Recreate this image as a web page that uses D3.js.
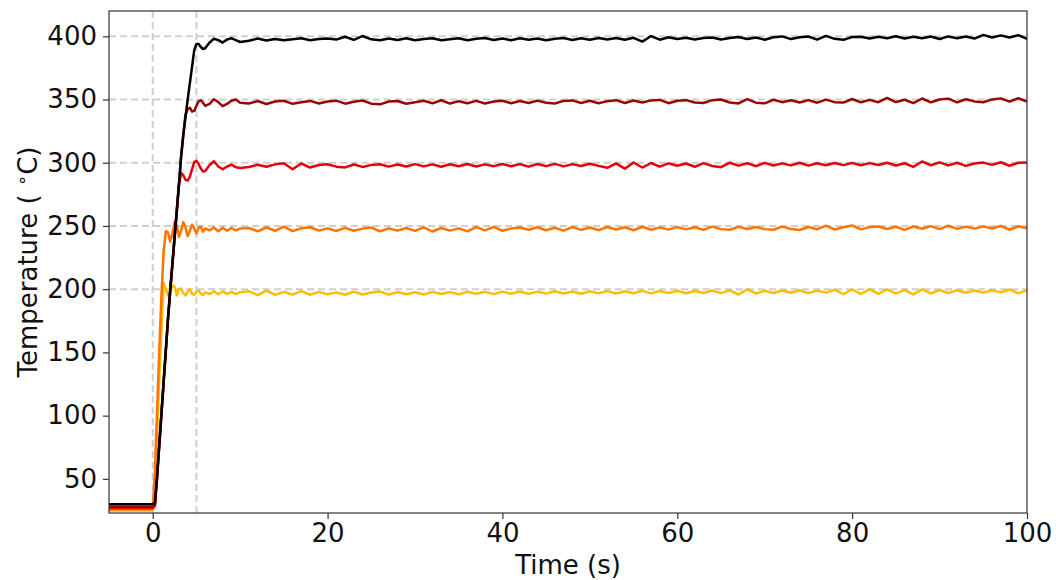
<!DOCTYPE html>
<html>
<head>
<meta charset="utf-8">
<script src="https://cdn.jsdelivr.net/npm/d3@7"></script>
<style>
  html, body { margin: 0; padding: 0; background: #fff; }
  svg { display: block; font-family: "DejaVu Sans", sans-serif; }
</style>
</head>
<body>
<svg id="chart" width="1056" height="580"></svg>
<script>
// ---- data ----
const timeTransient = [-5, 0, 0.25, 0.5, 0.75, 1, 1.25, 1.5, 1.75, 2, 2.25, 2.5, 2.75, 3, 3.25, 3.5, 3.75, 4,
  4.25, 4.5, 4.75, 5, 5.25, 5.5, 5.75, 6, 6.5, 7, 7.5, 8, 8.5, 9, 9.5, 10];
const timeSteady = [11,12,13,14,15,16,17,18,19,20,21,22,23,24,25,26,27,28,29,30,31,32,33,34,35,36,37,38,39,40,
  41,42,43,44,45,46,47,48,49,50,51,52,53,54,55,56,57,58,59,60,61,62,63,64,65,66,67,68,69,70,
  71,72,73,74,75,76,77,78,79,80,81,82,83,84,85,86,87,88,89,90,91,92,93,94,95,96,97,98,99,100];

const setpoints = [200, 250, 300, 350, 400];
const seriesColors = ["#f8bf00", "#ff7400", "#e6000a", "#9a0606", "#000000"];

const temp200 = [25, 25, 40, 85, 130, 168, 205, 200, 195, 198, 203, 202, 195, 200, 200.5, 197, 195, 198,
  200, 196.5, 195.5, 198, 199, 196.5, 195.5, 197.5, 196.2, 198.4, 196, 198.2, 196.3, 197.9, 196.1, 197.6,
  198.4, 195.3, 198.8, 195.5, 198, 195.7, 198.5, 195.6, 197.9, 195.9,
  197.5, 195.6, 198.1, 195.8, 197.4, 198.2, 195.7, 197.8, 196, 197.6,
  195.8, 197.9, 196.2, 197.7, 195.9, 198, 196.3, 197.9, 196.1, 198.1,
  196.4, 198.2, 196.3, 198.1, 196.5, 198.4, 196.6, 198.2, 196.4, 198.4,
  196.7, 198.5, 196.6, 198.4, 196.8, 198.7, 196.7, 198.5, 196.9, 198.8,
  196.8, 198.6, 197, 198.9, 196.9, 199.1, 195.8, 199.8, 196.6, 198.7,
  197, 199, 197.2, 199.2, 196.9, 198.9, 197.3, 199.6, 196, 199.8,
  196.2, 200.1, 196.3, 199.9, 196.5, 199.5, 195.9, 199.8, 196.6, 199.4,
  197, 199.1, 197.2, 199, 197.3, 199.2, 197.5, 199.8, 196.7, 199.2];

const temp250 = [26, 26, 56, 104, 152, 195, 230, 246, 245, 237.5, 244, 253, 251, 241.5, 246, 253, 249, 242,
  246, 251, 248, 244, 248.5, 249.5, 245.5, 248, 246.5, 248.8, 245.8, 248.6, 246.2, 248.4, 246.5, 248,
  248.4, 245.8, 248.8, 246.2, 249.5, 245.9, 248.2, 249, 246.3, 248.1,
  246, 248.5, 246.2, 247.9, 248.8, 245.8, 248.1, 246.3, 248.4, 246.1,
  248.9, 245.6, 248.4, 246.3, 248.1, 245.8, 249.1, 246.5, 249.2, 246.2,
  248, 248.8, 247, 249, 246.6, 248.6, 246.3, 249.1, 246.9, 248.8,
  246.7, 249.2, 247.2, 249, 246.6, 249.4, 247, 248.9, 247.1, 249.1,
  247.3, 249, 246.9, 249.5, 247.5, 247, 249.3, 247.6, 249.2, 247.5,
  247, 249.5, 247.6, 246.8, 249.2, 247.4, 250.2, 247.2, 249, 250.4,
  247.3, 249.1, 249.6, 247.6, 249.4, 246.9, 249.6, 247.8, 249.9, 247.5,
  250.2, 247.7, 249.5, 247.9, 249.7, 248, 250.1, 247, 249.8, 248.2];

const temp300 = [27, 27, 28.5, 51, 76, 101, 126, 151, 176, 198, 219, 240, 261, 282, 292, 290, 286.5, 285.8,
  289, 295, 300.5, 301.5, 299, 295.5, 293, 293.5, 298, 301.2, 297, 294.8, 297, 298.5, 296.5, 295.8,
  296.6, 298.4, 296.8, 298.7, 299.6, 294.9, 299.4, 296.2, 298.2, 298.8,
  296.9, 296.3, 298.6, 296.7, 298.3, 298.8, 296.9, 298.6, 297, 298.9,
  297.1, 298.7, 296.8, 298.8, 297.2, 299, 297, 298.7, 297.3, 299,
  297.2, 298.9, 296.9, 299, 297.3, 299.1, 297.1, 298.9, 297.4, 299.2,
  297.5, 296, 299.5, 295.3, 300.2, 296.2, 299.8, 296.9, 299.5, 297.6,
  299.4, 296.8, 299.7, 297.4, 296.5, 300, 297.7, 299.6, 297.3, 299.9,
  297.8, 299.5, 297.9, 300, 297.7, 299.6, 298, 299.8, 298.1, 299.9,
  298, 299.7, 298.2, 300, 297.8, 299.6, 296.7, 301, 298, 300.3,
  297.9, 300, 297.5, 299.4, 300.1, 298.3, 300.4, 297.6, 300, 300.2];

const temp350 = [28, 28, 29, 52, 77, 102, 127, 152, 177, 199, 220, 241, 262, 283, 305, 322, 338, 342.5,
  343.5, 340.5, 341, 345, 348.5, 349.4, 347.5, 345, 346.5, 350.2, 348, 344.7, 346.5, 349, 350, 347.5,
  346.8, 348.8, 346.5, 348.4, 349, 346.6, 347.9, 348.9, 346.9, 348.4,
  349.1, 346.7, 348.2, 349.2, 346.7, 346.2, 348.4, 348.8, 346.6, 347.9,
  349, 347, 349.4, 346.8, 348.7, 347.1, 348.9, 346.9, 348.5, 349,
  347.1, 348.8, 347.2, 349.1, 347.5, 346.9, 348.9, 349.3, 347.3, 349,
  347, 348.7, 349.5, 347.2, 349.2, 347.6, 349.3, 349.7, 347.1, 349,
  349.5, 347.7, 347.2, 349.5, 350, 347.6, 346.9, 350.3, 347.5, 347,
  349.8, 347.9, 349.4, 347.7, 349.5, 347.5, 349.9, 347.9, 347.6, 350.4,
  347.8, 349.7, 347.9, 351.2, 348, 349.8, 347.2, 350.8, 347.8, 350,
  350.7, 347.7, 350.2, 348.5, 347.8, 350.1, 350.9, 348.3, 351, 348.4];

const temp400 = [30, 30, 31, 52, 77, 102, 127, 152, 177, 199, 220, 241, 262, 283, 305, 322, 336, 350,
  363, 376, 389, 394, 394, 391.5, 390, 390.5, 395, 398, 397, 395, 397.5, 398.5, 397, 395.5,
  396.5, 398.2, 396.6, 397.8, 396.9, 397.6, 398.4, 396.8, 397.9, 398.3,
  397.4, 399.6, 397.2, 400.2, 397.6, 396.9, 398.3, 397, 398.4, 396.8,
  397.9, 398.5, 396.9, 397.6, 398.4, 396.8, 398, 398.6, 397, 398.2,
  396.9, 398.4, 397.2, 398.3, 396.8, 398, 398.6, 397.1, 398.4, 397.3,
  398.7, 397.5, 398.6, 397.3, 398.8, 395.8, 400.2, 397.3, 399.3, 397.9,
  398.9, 397.5, 398.7, 399.1, 397.4, 398.6, 399.5, 397.8, 399, 397.3,
  399.2, 399.9, 397.8, 399.3, 399.8, 397.4, 400.3, 398, 397.2, 399.4,
  399.6, 398.2, 399.7, 398.5, 400, 398.2, 399.7, 398.4, 399.8, 397.9,
  399.9, 398.5, 399.8, 398.2, 401.1, 399, 400.7, 399.1, 400.9, 398];

const xTicks = [0, 20, 40, 60, 80, 100];
const yTicks = [50, 100, 150, 200, 250, 300, 350, 400];
const refTimes = [0, 5];
const xLabel = "Time (s)";

// ---- layout ----
const svg = d3.select("#chart");
const L = 109, R = 1027, T = 11, B = 513;
const x = d3.scaleLinear().domain([-5, 100]).range([L, R]);
const y = d3.scaleLinear().domain([23, 420]).range([B, T]);

const time = timeTransient.concat(timeSteady);
const allSeries = [temp200, temp250, temp300, temp350, temp400];

svg.append("defs").append("clipPath").attr("id", "clip")
  .append("rect").attr("x", L).attr("y", T).attr("width", R - L).attr("height", B - T);

// reference lines
const grid = svg.append("g");
grid.selectAll("line.h").data(setpoints).enter().append("line")
  .attr("x1", L).attr("x2", R)
  .attr("y1", d => y(d)).attr("y2", d => y(d))
  .attr("stroke", "#cfcfcf").attr("stroke-width", 2).attr("stroke-dasharray", "7,4");
grid.selectAll("line.v").data(refTimes).enter().append("line")
  .attr("x1", d => x(d)).attr("x2", d => x(d))
  .attr("y1", T).attr("y2", B)
  .attr("stroke", "#cfcfcf").attr("stroke-width", 2).attr("stroke-dasharray", "7,4");

// series
const line = d3.line().x((d, i) => x(time[i])).y(d => y(d));
svg.append("g").attr("clip-path", "url(#clip)")
  .selectAll("path").data(allSeries).enter().append("path")
  .attr("d", d => line(d))
  .attr("fill", "none")
  .attr("stroke", (d, i) => seriesColors[i])
  .attr("stroke-width", 2.5)
  .attr("stroke-linejoin", "round");

// axes
const xAxis = svg.append("g").attr("transform", `translate(0,${B})`)
  .call(d3.axisBottom(x).tickValues(xTicks).tickSize(6).tickPadding(5).tickFormat(d3.format("d")));
const yAxis = svg.append("g").attr("transform", `translate(${L},0)`)
  .call(d3.axisLeft(y).tickValues(yTicks).tickSize(6).tickPadding(6).tickFormat(d3.format("d")));
[xAxis, yAxis].forEach(g => {
  g.select(".domain").remove();
  g.selectAll(".tick line").attr("stroke", "#333").attr("stroke-width", 1.2);
  g.selectAll(".tick text").attr("font-size", 26).attr("fill", "#111")
    .attr("font-family", "DejaVu Sans");
});

// frame
svg.append("rect").attr("x", L).attr("y", T).attr("width", R - L).attr("height", B - T)
  .attr("fill", "none").attr("stroke", "#333").attr("stroke-width", 1.2);

// labels
svg.append("text").attr("x", (L + R) / 2).attr("y", 574)
  .attr("text-anchor", "middle").attr("font-size", 26).attr("fill", "#111")
  .text(xLabel);

const yl = svg.append("text")
  .attr("transform", `translate(37,${(T + B) / 2}) rotate(-90)`)
  .attr("text-anchor", "middle").attr("font-size", 26).attr("fill", "#111");
yl.append("tspan").text("Temperature ( ");
yl.append("tspan").attr("dy", -9).attr("font-size", 18).text("∘");
yl.append("tspan").attr("dy", 9).text("C)");
</script>
</body>
</html>
